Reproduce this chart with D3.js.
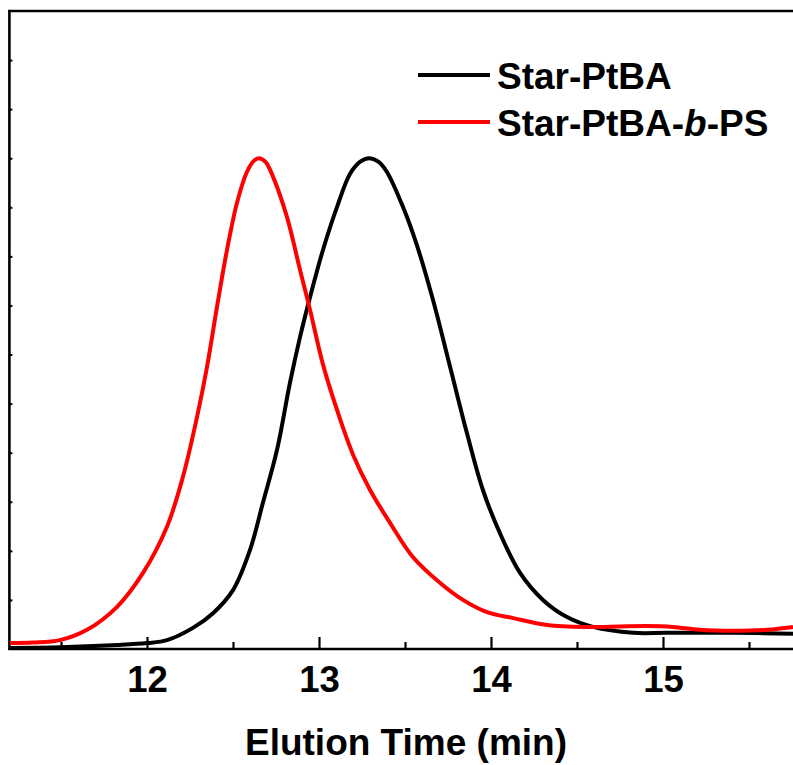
<!DOCTYPE html>
<html>
<head>
<meta charset="utf-8">
<script src="https://cdn.jsdelivr.net/npm/d3@7"></script>
<style>
  html, body { margin: 0; padding: 0; background: #fff; }
  svg { display: block; font-family: Arial, "Liberation Sans", Helvetica, sans-serif; }
</style>
</head>
<body>
<svg id="chart" width="793" height="765"></svg>
<script>
// GPC traces: elution time (min) vs normalised detector response
const seriesNames = ["Star-PtBA", "Star-PtBA-b-PS"];
const seriesColors = ["#000000", "#ff0000"];

const starPtBA = [
  [11.203, 0.002], [11.535, 0.004], [11.826, 0.008], [12.0, 0.012], [12.116, 0.018],
  [12.267, 0.043], [12.384, 0.073], [12.500, 0.120], [12.599, 0.202], [12.674, 0.298],
  [12.756, 0.406], [12.831, 0.542], [12.890, 0.636], [12.948, 0.717], [13.023, 0.813],
  [13.105, 0.901], [13.180, 0.968], [13.240, 0.993], [13.291, 1.000], [13.345, 0.993],
  [13.395, 0.972], [13.488, 0.901], [13.570, 0.822], [13.663, 0.711], [13.762, 0.575],
  [13.860, 0.440], [13.953, 0.324], [14.052, 0.236], [14.169, 0.155], [14.302, 0.100],
  [14.442, 0.065], [14.593, 0.045], [14.826, 0.033], [15.023, 0.033], [15.407, 0.033],
  [15.756, 0.031]
];

const starPtBAbPS = [
  [11.203, 0.012], [11.337, 0.013], [11.494, 0.018], [11.651, 0.039], [11.826, 0.086],
  [11.977, 0.155], [12.116, 0.249], [12.209, 0.351], [12.291, 0.473], [12.349, 0.575],
  [12.407, 0.697], [12.465, 0.813], [12.523, 0.909], [12.581, 0.972], [12.620, 0.994],
  [12.651, 1.000], [12.690, 0.992], [12.733, 0.962], [12.814, 0.880], [12.890, 0.772],
  [12.948, 0.691], [13.023, 0.580], [13.105, 0.487], [13.198, 0.396], [13.297, 0.324],
  [13.413, 0.257], [13.547, 0.187], [13.703, 0.135], [13.837, 0.100], [13.977, 0.075],
  [14.128, 0.063], [14.326, 0.049], [14.558, 0.045], [14.907, 0.047], [15.058, 0.045],
  [15.215, 0.039], [15.407, 0.037], [15.605, 0.039], [15.756, 0.045]
];

const xMajorTicks = [12, 13, 14, 15];
const xMinorTicks = [11.5, 12.5, 13.5, 14.5, 15.5];
const yTicks = [0.1, 0.2, 0.3, 0.4, 0.5, 0.6, 0.7, 0.8, 0.9, 1.0, 1.1, 1.2];
const xTitle = "Elution Time (min)";

const svg = d3.select("#chart");

const x = d3.scaleLinear().domain([11.2, 15.76]).range([9.4, 793.7]);
const y = d3.scaleLinear().domain([0, 1.3]).range([649, 11]);

const [x0, x1] = x.range();
const [yb, yt] = y.range();

// clip the traces to the plot frame
svg.append("defs").append("clipPath").attr("id", "plotClip")
  .append("rect").attr("x", x0).attr("y", yt).attr("width", x1 - x0).attr("height", yb - yt);

// left axis: inward minor ticks only
const yAxis = svg.append("g").attr("transform", `translate(${x0},0)`)
  .call(d3.axisRight(y).tickValues(yTicks).tickSize(3).tickFormat(""));
yAxis.select(".domain").remove();
yAxis.selectAll(".tick line").attr("stroke", "#000").attr("stroke-width", 2);

// bottom axis: inward major and minor ticks
const xMajor = svg.append("g").attr("transform", `translate(0,${yb})`)
  .call(d3.axisBottom(x).tickValues(xMajorTicks).tickSize(-12).tickPadding(17).tickFormat(d3.format("d")));
xMajor.select(".domain").remove();
xMajor.selectAll(".tick line").attr("stroke", "#000").attr("stroke-width", 2.2);
xMajor.selectAll(".tick text")
  .attr("fill", "#000")
  .style("font-size", "36.5px")
  .style("font-weight", "bold")
  .style("font-family", "Arial, 'Liberation Sans', sans-serif");

const xMinor = svg.append("g").attr("transform", `translate(0,${yb})`)
  .call(d3.axisBottom(x).tickValues(xMinorTicks).tickSize(-7).tickFormat(""));
xMinor.select(".domain").remove();
xMinor.selectAll(".tick line").attr("stroke", "#000").attr("stroke-width", 2.2);

// frame lines
const frame = svg.append("g").attr("stroke", "#000").attr("stroke-width", 2.6).attr("fill", "none");
frame.append("line").attr("x1", x0).attr("x2", x0).attr("y1", yt).attr("y2", yb);
frame.append("line").attr("x1", x0 - 1.3).attr("x2", x1 + 2).attr("y1", yb).attr("y2", yb);
frame.append("line").attr("x1", x0 - 1.3).attr("x2", x1 + 2).attr("y1", yt).attr("y2", yt);

// traces
const line = d3.line()
  .x(d => x(d[0]))
  .y(d => y(d[1]))
  .curve(d3.curveCatmullRom.alpha(0.5));

const traces = [starPtBA, starPtBAbPS];
svg.append("g").attr("clip-path", "url(#plotClip)")
  .selectAll("path")
  .data(traces)
  .join("path")
  .attr("d", line)
  .attr("fill", "none")
  .attr("stroke", (d, i) => seriesColors[i])
  .attr("stroke-width", 4)
  .attr("stroke-linejoin", "round");

// axis title
svg.append("text")
  .attr("x", 406)
  .attr("y", 755)
  .attr("text-anchor", "middle")
  .style("font-size", "37px")
  .style("font-weight", "bold")
  .text(xTitle);

// legend
const legend = svg.append("g");
const legendY = [75, 122];
seriesNames.forEach((name, i) => {
  legend.append("line")
    .attr("x1", 418).attr("x2", 490)
    .attr("y1", legendY[i]).attr("y2", legendY[i])
    .attr("stroke", seriesColors[i])
    .attr("stroke-width", 4);
  const t = legend.append("text")
    .attr("x", 497)
    .attr("y", legendY[i] + 13.5)
    .style("font-size", "37px")
    .style("font-weight", "bold");
  if (name.includes("-b-")) {
    const parts = name.split("-b-");
    t.append("tspan").text(parts[0] + "-");
    t.append("tspan").style("font-style", "italic").text("b");
    t.append("tspan").text("-" + parts[1]);
  } else {
    t.text(name);
  }
});
</script>
</body>
</html>
